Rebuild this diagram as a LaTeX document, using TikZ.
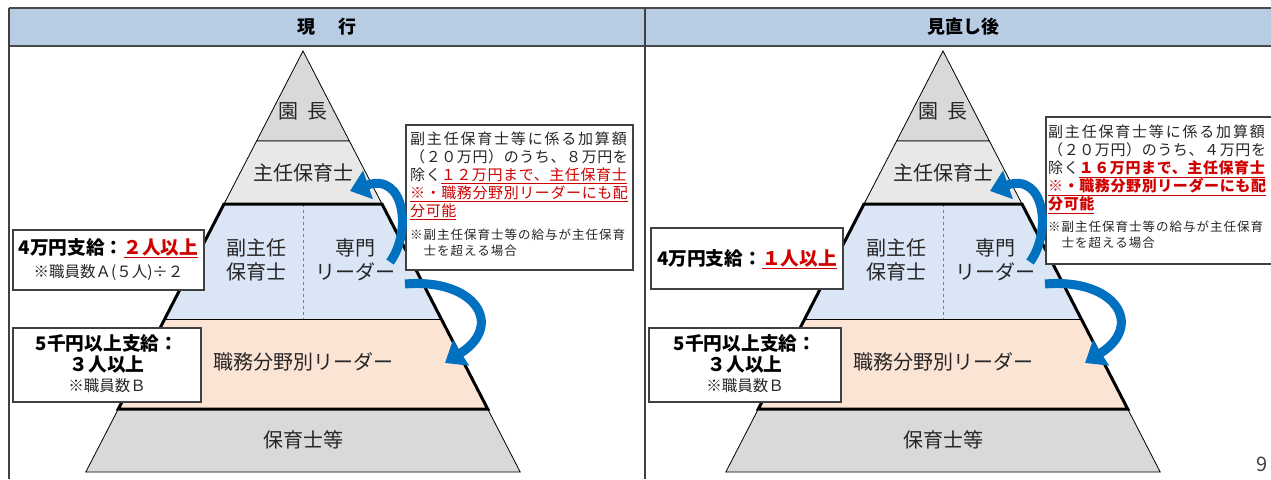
\documentclass[tikz,border=0pt]{standalone}
\usepackage{fontspec}
\setmainfont{Noto Sans CJK JP}
\newfontfamily\jpsp[LetterSpace=4]{Noto Sans CJK JP}
\newfontfamily\jpnt[LetterSpace=8]{Noto Sans CJK JP}
\usetikzlibrary{arrows.meta}
\definecolor{hdr}{HTML}{B8CCE4}
\definecolor{hdrline}{HTML}{4A4A4A}
\definecolor{gA}{HTML}{D9D9D9}
\definecolor{gB}{HTML}{E8E8E8}
\definecolor{blt}{HTML}{DAE5F5}
\definecolor{ort}{HTML}{FCE4D4}
\definecolor{arr}{HTML}{0070C0}
\definecolor{rd}{HTML}{D00000}
\definecolor{txt}{HTML}{262626}
\definecolor{bord}{HTML}{404040}
\newcommand\mypyr[1]{%
  \path[fill=gA, draw=black, line width=0.8pt] (303,51) -- (349.4,141) -- (256.6,141) -- cycle;
  \path[fill=gB, draw=black, line width=0.8pt] (256.6,141) -- (349.4,141) -- (382,204) -- (224,204) -- cycle;
  \path[fill=blt] (224,204) -- (382,204) -- (441.3,319) -- (164.7,319) -- cycle;
  \path[fill=ort] (164.7,319) -- (441.3,319) -- (487.7,409) -- (118.3,409) -- cycle;
  \path[fill=gA, draw=black, line width=0.8pt] (118.3,409) -- (487.7,409) -- (520.2,472) -- (85.8,472) -- cycle;
  \draw[black, line width=0.8pt] (164.7,319) -- (441.3,319);
  \draw[gray, line width=0.8pt, dashed] (303,204) -- (303,319);
  \draw[black, line width=3pt, line join=miter] (224,204) -- (382,204) -- (487.7,409) -- (118.3,409) -- cycle;
  \node[lbl] (#1en) at (303,111) {園\hspace{0.45em}長};
  \node[lbl] (#1sh) at (303,173) {主任保育士};
  \node[lbl] (#1fk) at (256,260) {副主任\\保育士};
  \node[lbl] (#1sm) at (355,260) {専門\\リーダー};
  \node[lbl] (#1sk) at (303,362) {職務分野別リーダー};
  \node[lbl] (#1ho) at (303,440) {保育士等};
  \coordinate (#1sa) at (390,262);
  \coordinate (#1ea) at (350,191);
  \coordinate (#1sb) at (405,284);
  \coordinate (#1eb) at (445,363);
}
\newcommand\myarrows[1]{%
  \draw[arrowb] (#1sa) .. controls (412,232) and (405,172) .. (#1ea);
  \draw[arrowb] (#1sb) .. controls (475,278) and (505,325) .. (#1eb);
}
\newcommand\wideline[1]{{\addfontfeature{LetterSpace=12}#1}}
\begin{document}
\begin{tikzpicture}[x=1pt,y=-1pt,
  lbl/.style={font=\fontsize{20}{24}\selectfont, text=txt, inner sep=0pt, align=center},
  box/.style={draw=bord, line width=1.2pt, fill=white, inner sep=0pt},
  arrowb/.style={draw=arr, line width=9pt, -{Triangle[length=19pt,width=29pt]}},
  btxt/.style={font=\bfseries\fontsize{18.7}{22}\selectfont, text=black, inner sep=0pt},
  stxt/.style={font=\fontsize{15.5}{18}\selectfont, text=txt, inner sep=0pt},
  ctxt/.style={anchor=north west, inner sep=0pt, align=left, text=txt, font=\jpsp\fontsize{15}{18}\selectfont},
  ntxt/.style={anchor=north west, inner sep=0pt, align=left, text=txt, font=\jpnt\fontsize{12.5}{16}\selectfont}]
\useasboundingbox (0,0) rectangle (1271,479);
\clip (0,0) rectangle (1271,479);
\fill[white] (0,0) rectangle (1271,479);
% header
\fill[hdr] (9,8) rectangle (1290,46);
\draw[hdrline, line width=1.8pt] (9,8) -- (1290,8);
\draw[hdrline, line width=1.8pt] (9,46) -- (1290,46);
\draw[bord, line width=1.4pt] (9,8) -- (9,479);
\draw[bord, line width=1.4pt] (645,8) -- (645,479);
\node[font=\bfseries\fontsize{18}{20}\selectfont, inner sep=0pt] (hL) at (327,27) {現\hspace{1.3em}行};
\node[font=\bfseries\fontsize{18}{20}\selectfont, inner sep=0pt] (hR) at (963,27) {見直し後};
% left panel
\mypyr{L}
\node[box, minimum width=227pt, minimum height=145pt] (Lcb) at (519.5,197.5) {};
\node[ctxt] (Lct) at (410,132) {\wideline{副主任保育士等に係る加算額}\\（２０万円）のうち、８万円を\\除く{\color{rd}\underline{１２万円まで、主任保育士}}\\{\color{rd}\underline{※・職務分野別リーダーにも配}}\\{\color{rd}\underline{分可能}}};
\node[ntxt] (Lnt) at (410,229) {※副主任保育士等の給与が主任保育\\　士を超える場合};
\myarrows{L}
\node[box, minimum width=191pt, minimum height=60pt] (Lb1) at (108.5,260) {};
\node[btxt] (Lb1a) at (108.5,248) {4万円支給：{\color{rd}\underline{２人以上}}};
\node[stxt] (Lb1b) at (108.5,272) {※職員数Ａ(５人)÷２};
\node[box, minimum width=188pt, minimum height=74pt] (Lb2) at (107,365) {};
\node[btxt] (Lb2a) at (107,343) {5千円以上支給：};
\node[btxt] (Lb2b) at (107,365) {３人以上};
\node[stxt] (Lb2c) at (107,386) {※職員数Ｂ};
% right panel
\begin{scope}[xshift=640pt]
\mypyr{R}
\node[box, minimum width=260pt, minimum height=147pt] (Rcb) at (536,190.5) {};
\node[ctxt] (Rct) at (408,125) {\wideline{副主任保育士等に係る加算額}\\（２０万円）のうち、４万円を\\除く{\color{rd}\bfseries\underline{１６万円まで、主任保育士}}\\{\color{rd}\bfseries\underline{※・職務分野別リーダーにも配}}\\{\color{rd}\bfseries\underline{分可能}}};
\node[ntxt] (Rnt) at (408,221) {※副主任保育士等の給与が主任保育\\　士を超える場合};
\myarrows{R}
\node[box, minimum width=192pt, minimum height=61pt] (Rb1) at (107,258.5) {};
\node[btxt] (Rb1a) at (107,259) {4万円支給：{\color{rd}\underline{１人以上}}};
\node[box, minimum width=192pt, minimum height=74pt] (Rb2) at (105,365) {};
\node[btxt] (Rb2a) at (105,343) {5千円以上支給：};
\node[btxt] (Rb2b) at (105,365) {３人以上};
\node[stxt] (Rb2c) at (105,386) {※職員数Ｂ};
\end{scope}
\node[anchor=west, inner sep=0pt, font=\fontsize{20}{24}\selectfont, text=bord] (pg) at (1256,464) {9};
\end{tikzpicture}
\end{document}
